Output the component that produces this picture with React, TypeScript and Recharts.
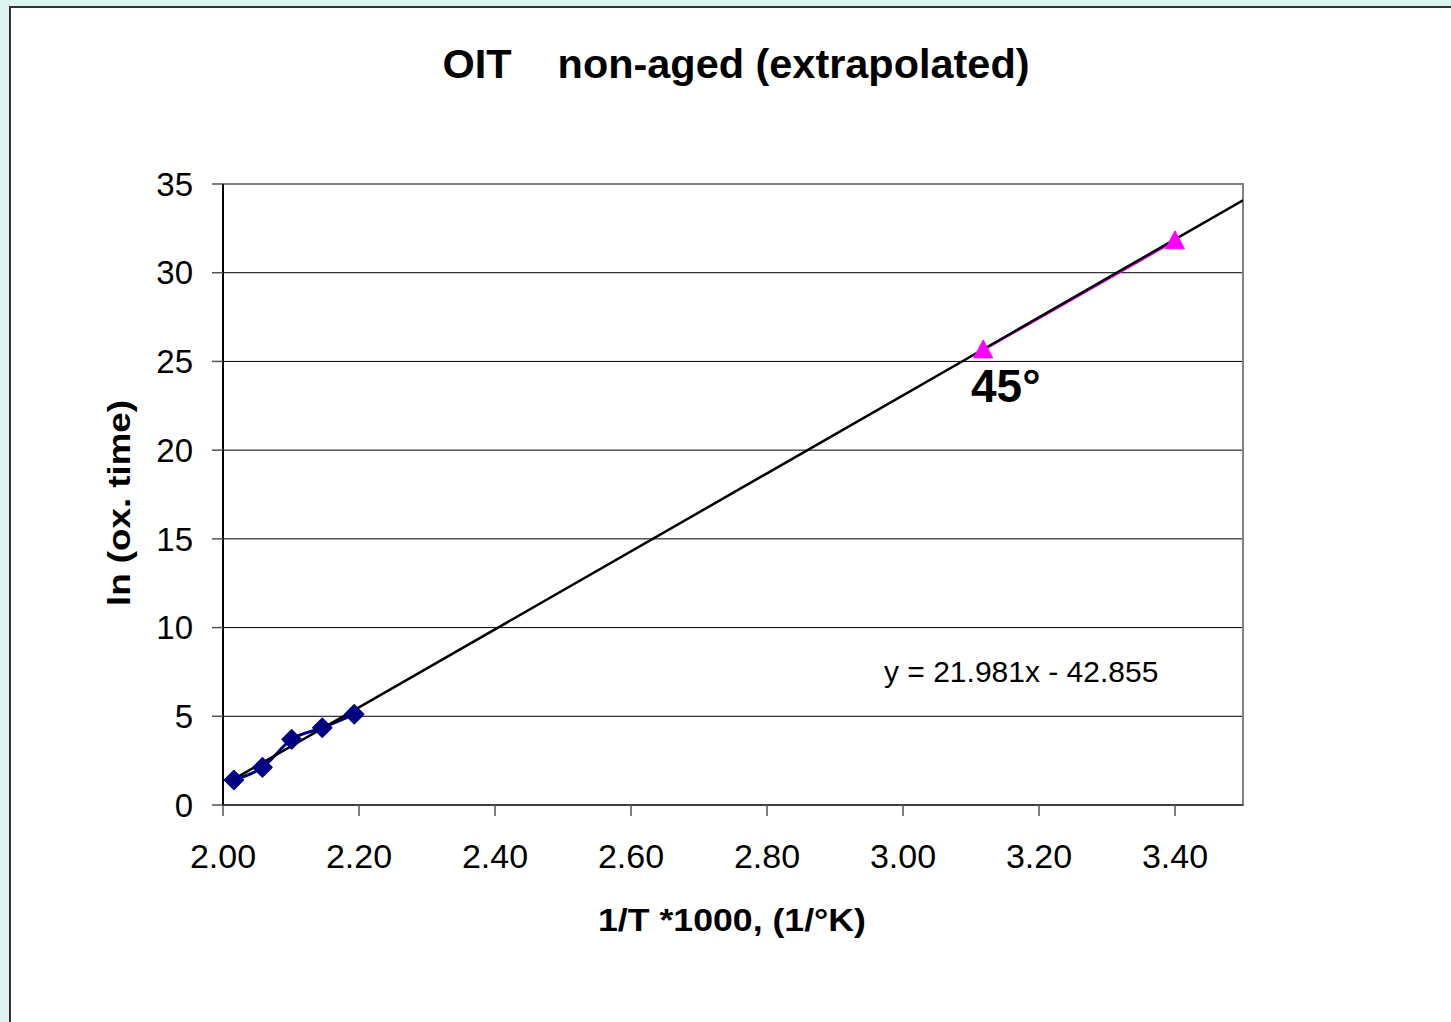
import React from 'react';
import { ComposedChart, Line, XAxis, YAxis, CartesianGrid, ReferenceArea } from 'recharts';

const oitX = [2.016, 2.058, 2.101, 2.146, 2.193];
const oitY = [1.41, 2.12, 3.7, 4.35, 5.11];
const extrapX = [3.118, 3.4];
const extrapY = [25.65, 31.8];
// Linear trendline end points
const trendX = [2.016, 3.5];
const trendY = [1.46, 34.08];

const xTicks = [2.0, 2.2, 2.4, 2.6, 2.8, 3.0, 3.2, 3.4];
const yTicks = [0, 5, 10, 15, 20, 25, 30, 35];

const chartTitle = 'OIT    non-aged (extrapolated)';
const xTitle = '1/T *1000, (1/°K)';
const yTitle = 'ln (ox. time)';
const angleNote = '45°';
const equation = 'y = 21.981x - 42.855';

const oitData = oitX.map((x, i) => ({ x, y: oitY[i] }));
const extrapData = extrapX.map((x, i) => ({ x, y: extrapY[i] }));
const trendData = trendX.map((x, i) => ({ x, y: trendY[i] }));

const FONT = '"Liberation Sans", Arial, sans-serif';

const Diamond = (props: any) => {
  const { cx, cy, index } = props;
  if (cx == null || cy == null) return <g key={`d${index}`} />;
  const r = 9.5;
  return (
    <path
      key={`d${index}`}
      d={`M${cx},${cy - r} L${cx + r},${cy} L${cx},${cy + r} L${cx - r},${cy} Z`}
      fill="#000080"
      stroke="#000080"
      strokeWidth={1.5}
      strokeLinejoin="round"
    />
  );
};

const Triangle = (props: any) => {
  const { cx, cy, index } = props;
  if (cx == null || cy == null) return <g key={`t${index}`} />;
  return (
    <path
      key={`t${index}`}
      d={`M${cx},${cy - 10} L${cx + 9.5},${cy + 8} L${cx - 9.5},${cy + 8} Z`}
      fill="#FF00FF"
      stroke="#FF00FF"
      strokeWidth={1}
    />
  );
};

export default function App() {
  return (
    <div style={{ position: 'absolute', left: 0, top: 0, width: 1451, height: 1022, background: '#DDF5F1', overflow: 'hidden' }}>
      <div
        style={{
          position: 'absolute',
          left: 9,
          top: 6,
          width: 1500,
          height: 1100,
          background: '#FFFFFF',
          borderLeft: '2px solid #333333',
          borderTop: '2px solid #333333',
        }}
      />
      <div style={{ position: 'absolute', left: 0, top: 0 }}>
        <ComposedChart
          width={1451}
          height={1022}
          margin={{ top: 184, right: 208, left: 163, bottom: 157 }}
        >
          <CartesianGrid horizontal vertical={false} stroke="#000000" strokeWidth={1} />
          <ReferenceArea x1={2} x2={3.5} y1={0} y2={35} fill="none" stroke="#808080" strokeWidth={2} ifOverflow="visible" />
          <XAxis
            type="number"
            dataKey="x"
            domain={[2, 3.5]}
            ticks={xTicks}
            allowDataOverflow
            tickFormatter={(v: number) => v.toFixed(2)}
            height={60}
            tickSize={11}
            tickMargin={28}
            axisLine={{ stroke: '#404040', strokeWidth: 2 }}
            tickLine={{ stroke: '#555555', strokeWidth: 1.5 }}
            tick={{ fill: '#000000', fontSize: 34, fontFamily: FONT }}
            interval={0}
          />
          <YAxis
            type="number"
            dataKey="y"
            domain={[0, 35]}
            ticks={yTicks}
            allowDataOverflow
            width={60}
            tickSize={11}
            tickMargin={19}
            axisLine={{ stroke: '#000000', strokeWidth: 2 }}
            tickLine={{ stroke: '#555555', strokeWidth: 1.5 }}
            tick={{ fill: '#000000', fontSize: 33, fontFamily: FONT }}
            interval={0}
          />
          <Line
            data={oitData}
            dataKey="y"
            type="monotone"
            stroke="#000080"
            strokeWidth={3}
            dot={Diamond}
            activeDot={false}
            isAnimationActive={false}
          />
          <Line
            data={extrapData}
            dataKey="y"
            type="linear"
            stroke="#FF00FF"
            strokeWidth={2.5}
            dot={Triangle}
            activeDot={false}
            isAnimationActive={false}
          />
          <Line
            data={trendData}
            dataKey="y"
            type="linear"
            stroke="#000000"
            strokeWidth={2.5}
            dot={false}
            activeDot={false}
            isAnimationActive={false}
          />
        </ComposedChart>
      </div>
      <svg
        width={1451}
        height={1022}
        style={{ position: 'absolute', left: 0, top: 0, pointerEvents: 'none' }}
        fontFamily={FONT}
      >
        <text x={736} y={78} textAnchor="middle" fontSize={41} fontWeight="bold" fill="#000" style={{ whiteSpace: 'pre' }} textLength={587} lengthAdjust="spacingAndGlyphs">
          {chartTitle}
        </text>
        <text x={732} y={931} textAnchor="middle" fontSize={31} fontWeight="bold" fill="#000" textLength={268} lengthAdjust="spacingAndGlyphs">
          {xTitle}
        </text>
        <text
          x={130}
          y={503}
          textAnchor="middle"
          fontSize={31}
          fontWeight="bold"
          fill="#000"
          transform="rotate(-90 130 503)"
          textLength={206}
          lengthAdjust="spacingAndGlyphs"
        >
          {yTitle}
        </text>
        <text x={971} y={402} fontSize={46} fontWeight="bold" fill="#000">
          {angleNote}
        </text>
        <text x={884} y={682} fontSize={30} fill="#000">
          {equation}
        </text>
      </svg>
    </div>
  );
}
